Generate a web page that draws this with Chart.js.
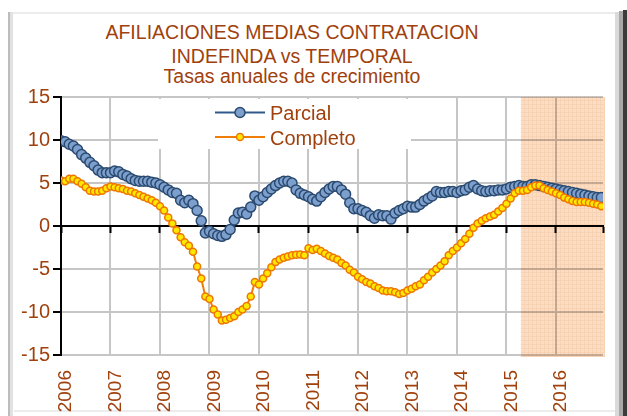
<!DOCTYPE html>
<html>
<head>
<meta charset="utf-8">
<script src="https://cdn.jsdelivr.net/npm/chart.js@4.4.0/dist/chart.umd.min.js"></script>
<style>
  html, body { margin: 0; padding: 0; background: #fff; }
  #wrap { position: relative; width: 627px; height: 416px; overflow: hidden; background: #fff; }
  .edge { position: absolute; }
  .t { position: absolute; left: 0; width: 584px; text-align: center; white-space: nowrap;
       font-family: "Liberation Sans", Arial, sans-serif; font-size: 19.5px; line-height: 20px; color: #a0410d; }
  canvas { position: absolute; left: 0; top: 0; }
</style>
</head>
<body>
<div id="wrap">
  <div class="edge" style="left:8px;top:12px;width:612px;height:2px;background:#ececec"></div>
  <div class="edge" style="left:8px;top:12px;width:2px;height:404px;background:#bdbdbd"></div>
  <div class="edge" style="left:10px;top:12px;width:3px;height:404px;background:#e2e2e2"></div>
  <div class="edge" style="left:14px;top:410px;width:602px;height:2px;background:#ececec"></div>
  <div class="edge" style="left:615px;top:12px;width:4px;height:404px;background:#dadada"></div>
  <div class="edge" style="left:619px;top:11px;width:4px;height:405px;background:#a9a9a9"></div>
  <div class="edge" style="left:623px;top:10px;width:4px;height:406px;background:#3c3c3c"></div>

  <div class="t" style="top:22px">AFILIACIONES MEDIAS CONTRATACION</div>
  <div class="t" style="top:46px">INDEFINDA vs TEMPORAL</div>
  <div class="t" style="top:66px">Tasas anuales de crecimiento</div>

  <canvas id="chart" width="627" height="416"></canvas>
</div>
<script>
const yearLabels = ['2006','2007','2008','2009','2010','2011','2012','2013','2014','2015','2016']
const yTicks = [-15, -10, -5, 0, 5, 10, 15]
const forecastFrom = 111.5

const parcial = [
  9.9, 9.8, 9.5, 9.3, 8.9, 8.3, 7.9, 7.4, 7.0, 6.5, 6.2, 6.2,
  6.2, 6.4, 6.3, 6.0, 5.8, 5.5, 5.3, 5.2, 5.2, 5.2, 5.1, 5.0,
  4.8, 4.5, 4.2, 3.9, 3.8, 3.0, 2.7, 3.0, 2.6, 1.8, 0.6, -0.8,
  -0.6, -0.9, -1.1, -1.2, -1.0, -0.4, 0.7, 1.5, 1.6, 1.4, 2.2, 3.5,
  3.0, 3.4, 3.9, 4.3, 4.7, 5.0, 5.2, 5.2, 5.0, 4.2, 3.8, 3.6,
  3.4, 3.1, 2.9, 3.4, 3.9, 4.3, 4.6, 4.6, 4.2, 3.7, 2.7, 2.0,
  2.0, 1.8, 1.6, 1.2, 0.9, 1.3, 1.2, 1.2, 0.8, 1.5, 1.8, 2.0,
  2.3, 2.2, 2.2, 2.5, 2.9, 3.2, 3.5, 4.0, 3.9, 3.9, 4.0, 4.0,
  3.9, 4.1, 4.2, 4.5, 4.7, 4.3, 4.1, 4.0, 4.1, 4.1, 4.2, 4.2,
  4.3, 4.5, 4.6, 4.7, 4.6, 4.6, 4.8, 4.8, 4.7, 4.6, 4.5, 4.4,
  4.3, 4.2, 4.1, 4.0, 3.9, 3.8, 3.7, 3.6, 3.5, 3.4, 3.3, 3.3
]

const completo = [
  5.3, 5.2, 5.5, 5.5, 5.2, 4.9, 4.5, 4.1, 4.0, 4.0, 4.1, 4.4,
  4.6, 4.5, 4.4, 4.3, 4.1, 4.0, 3.8, 3.6, 3.4, 3.2, 3.0, 2.7,
  2.3, 1.8, 1.0, 0.3, -0.5, -1.3, -1.9, -2.3, -3.0, -4.7, -6.1, -8.2,
  -8.5, -9.7, -10.3, -11.0, -10.9, -10.7, -10.5, -10.0, -9.7, -9.3, -8.2, -6.5,
  -6.8, -6.1, -5.5, -4.8, -4.2, -3.9, -3.7, -3.55, -3.4, -3.35, -3.3, -3.4,
  -2.6, -2.8, -2.65, -2.9, -3.2, -3.5, -3.7, -3.9, -4.3, -4.6, -5.1, -5.4,
  -5.9, -6.2, -6.5, -6.7, -7.0, -7.2, -7.5, -7.6, -7.6, -7.7, -7.9, -7.8,
  -7.5, -7.3, -7.0, -6.8, -6.3, -5.9, -5.4, -5.0, -4.6, -4.1, -3.4, -2.9,
  -2.5, -2.0, -1.5, -0.9, -0.2, 0.3, 0.6, 0.9, 1.1, 1.3, 1.7, 2.1,
  2.6, 3.2, 3.8, 4.1, 4.1, 4.2, 4.5, 4.7, 4.7, 4.4, 4.2, 4.0,
  3.8, 3.6, 3.3, 3.1, 2.9, 2.8, 2.8, 2.8, 2.7, 2.6, 2.5, 2.3
]

const brown = '#a0410d'
const gridGray = '#c6c6c6'
const font = 'Liberation Sans, Arial, sans-serif'
const xMax = parcial.length - 0.6

const toPoints = arr => arr.map((v, i) => ({ x: i, y: v }))
const yearTicks = () => yearLabels.map((l, i) => ({ value: i * 12 }))

// shaded forecast area, multiplied so grid and axis stay visible through it
const shadePlugin = {
  id: 'shade',
  beforeDatasetsDraw(chart) {
    const { ctx, chartArea, scales } = chart
    const tile = document.createElement('canvas')
    tile.width = 4; tile.height = 4
    const tc = tile.getContext('2d')
    tc.fillStyle = '#fcdcc2'
    tc.fillRect(0, 0, 4, 4)
    tc.fillStyle = '#f8d3b3'
    tc.fillRect(0, 0, 4, 1)
    tc.fillRect(0, 0, 1, 4)
    const x0 = scales.x.getPixelForValue(forecastFrom)
    ctx.save()
    ctx.globalCompositeOperation = 'multiply'
    ctx.fillStyle = ctx.createPattern(tile, 'repeat')
    ctx.fillRect(x0, chartArea.top, chartArea.right + 2 - x0, chartArea.bottom - chartArea.top + 2)
    ctx.restore()
  }
}

const legendPlugin = {
  id: 'boxLegend',
  afterDraw(chart) {
    const { ctx, chartArea } = chart
    const left = chartArea.left + 97, top = chartArea.top + 2
    ctx.save()
    ctx.fillStyle = '#fff'
    ctx.fillRect(left, top, 253, 50)
    chart.data.datasets.forEach((ds, i) => {
      const y = top + 13.5 + i * 24.5
      ctx.strokeStyle = ds.borderColor
      ctx.lineWidth = 2
      ctx.beginPath()
      ctx.moveTo(left + 57, y)
      ctx.lineTo(left + 107, y)
      ctx.stroke()
      ctx.beginPath()
      ctx.arc(left + 82, y, ds.pointRadius, 0, Math.PI * 2)
      ctx.fillStyle = ds.pointBackgroundColor
      ctx.fill()
      ctx.lineWidth = ds.pointBorderWidth
      ctx.strokeStyle = ds.pointBorderColor
      ctx.stroke()
      ctx.fillStyle = brown
      ctx.font = '20px ' + font
      ctx.textBaseline = 'alphabetic'
      ctx.fillText(ds.label, left + 112, y + 7.5)
    })
    ctx.restore()
  }
}

new Chart(document.getElementById('chart'), {
  type: 'line',
  data: {
    datasets: [
      {
        label: 'Parcial',
        data: toPoints(parcial),
        borderColor: '#2f5a8a',
        borderWidth: 2,
        pointRadius: 5,
        pointBackgroundColor: '#7d9fcd',
        pointBorderColor: '#2b4a6f',
        pointBorderWidth: 1.5,
        tension: 0,
        order: 1
      },
      {
        label: 'Completo',
        data: toPoints(completo),
        borderColor: '#ef7d0a',
        borderWidth: 2,
        pointRadius: 3.5,
        pointBackgroundColor: '#ffe800',
        pointBorderColor: '#ef7600',
        pointBorderWidth: 1.5,
        tension: 0,
        order: 0
      }
    ]
  },
  options: {
    responsive: false,
    animation: false,
    devicePixelRatio: 1,
    layout: { padding: { top: 97, right: 24, bottom: 0, left: 0 } },
    plugins: { legend: { display: false }, title: { display: false }, tooltip: { enabled: false } },
    scales: {
      x: {
        type: 'linear',
        position: 'bottom',
        min: 0,
        max: xMax,
        afterBuildTicks: s => { s.ticks = yearTicks() },
        afterFit: s => { s.height = 61 },
        border: { display: false },
        grid: { color: gridGray, lineWidth: 2, drawTicks: false },
        ticks: {
          autoSkip: false,
          minRotation: 90,
          maxRotation: 90,
          padding: 15,
          labelOffset: 5,
          color: brown,
          font: { family: font, size: 19 },
          callback: v => yearLabels[v / 12]
        }
      },
      x0: {
        type: 'linear',
        axis: 'x',
        position: { y: 0 },
        min: 0,
        max: xMax,
        afterBuildTicks: s => { s.ticks = yearTicks().concat([{ value: xMax }]) },
        border: { color: '#000', width: 2 },
        grid: { drawOnChartArea: false, tickLength: 6, tickColor: '#000', tickWidth: 2 },
        ticks: { display: false }
      },
      y: {
        min: -15,
        max: 15,
        afterBuildTicks: s => { s.ticks = yTicks.map(v => ({ value: v })) },
        afterFit: s => { s.width = 61 },
        border: { color: '#000', width: 2 },
        grid: { color: gridGray, lineWidth: 2, tickLength: 8, tickColor: '#000', tickWidth: 2 },
        ticks: { padding: 3, color: brown, font: { family: font, size: 20 } }
      }
    }
  },
  plugins: [shadePlugin, legendPlugin]
})
</script>
</body>
</html>
